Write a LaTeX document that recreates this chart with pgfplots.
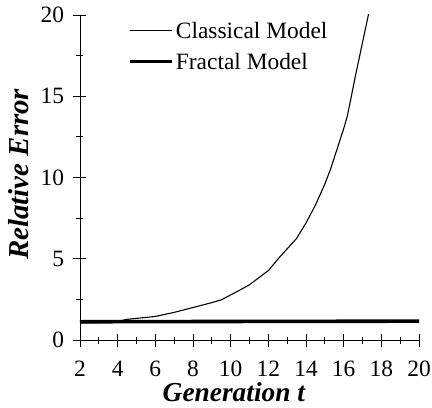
\documentclass[border=0pt]{standalone}
\usepackage{pgfplots}
\pgfplotsset{compat=1.18}
\usepackage{fontspec}
\setmainfont{Liberation Serif}
\begin{document}
\begin{tikzpicture}
\begin{axis}[
  at={(0,0)}, anchor=south west,
  scale only axis, width=339bp, height=325bp,
  xmin=2, xmax=20, ymin=0, ymax=20,
  axis lines=left, axis line style={-, line width=0.9pt},
  xtick={2,4,...,20}, ytick={0,5,...,20},
  minor x tick num=1, minor y tick num=1,
  tick align=center,
  major tick length=13bp, minor tick length=7bp,
  tick style={black, line width=0.9pt},
  /pgf/number format/assume math mode=true,
  tick label style={font=\fontsize{23.5}{23.5}\selectfont},
  xticklabel style={yshift=-11bp},
  yticklabel style={xshift=-6bp},
  xlabel={\bfseries\itshape Generation t},
  xlabel style={at={(axis description cs:0.454,-0.19)}, anchor=base, font=\fontsize{27.5}{27.5}\selectfont},
  ylabel={\bfseries\itshape Relative Error},
  ylabel style={at={(axis description cs:-0.18,0.51)}, anchor=center, rotate=0, font=\fontsize{29}{29}\selectfont},
  legend style={at={(axis description cs:0.142,0.985)}, anchor=north west, draw=none, fill=none,
    font=\fontsize{23.5}{23.5}\selectfont, row sep=9bp, inner sep=0pt},
  legend cell align=left,
  legend image code/.code={\draw[#1] (0bp,0bp) -- (42bp,0bp);},
]
\addplot[black, line width=1.1pt] coordinates {
 (2,1.05) (3,1.08) (4,1.15) (4.5,1.27) (5,1.33) (6,1.45) (7,1.7) (8,2.0)
 (9,2.3) (9.5,2.47) (10.5,3.08) (11,3.4) (12,4.27) (12.6,5.1) (13.5,6.25)
 (14,7.2) (14.5,8.3) (15,9.6) (15.3,10.5) (16,13.0) (16.2,13.8) (16.65,16.4)
 (17.33,20.1) (17.5,21)
};
\addlegendentry{Classical Model}
\addplot[black, line width=3.6pt] coordinates {
 (2,1.12) (5,1.13) (10,1.14) (15,1.15) (20,1.16)
};
\addlegendentry{Fractal Model}
\end{axis}
\pgfresetboundingbox
\path (-80bp,-68bp) rectangle (352bp,340bp);
\end{tikzpicture}
\end{document}
